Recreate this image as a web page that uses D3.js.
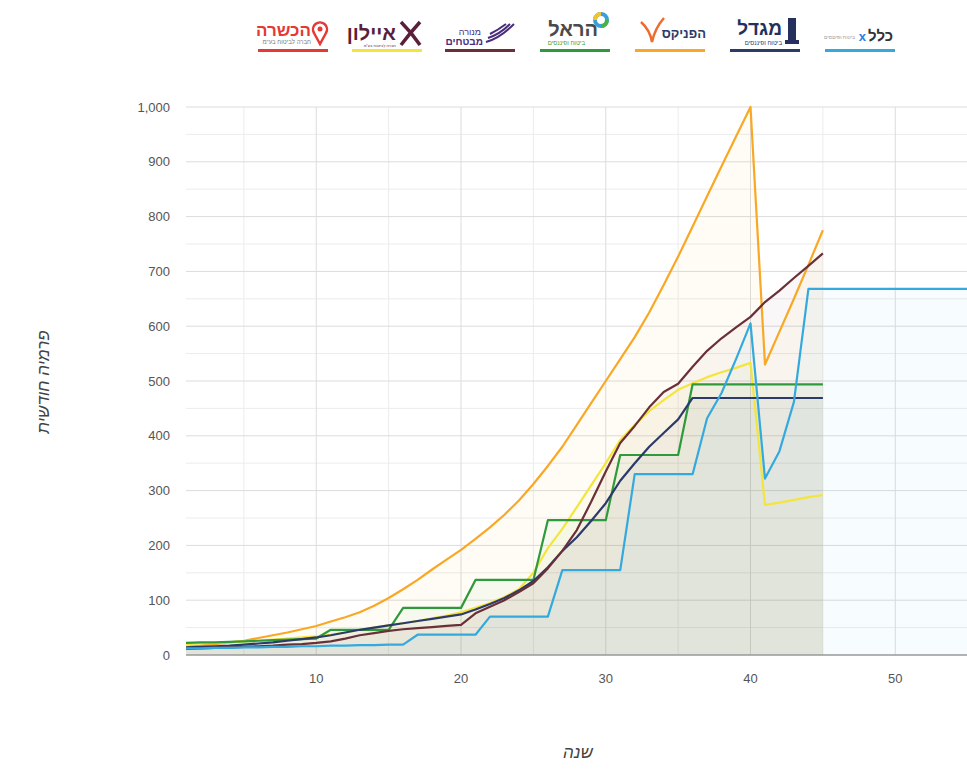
<!DOCTYPE html>
<html><head><meta charset="utf-8">
<script src="https://cdn.jsdelivr.net/npm/d3@7"></script>
<style>body{margin:0;background:#fff;overflow:hidden} svg{display:block;font-family:"Liberation Sans",Arial,sans-serif}</style>
</head><body><svg id="c" width="967" height="774"></svg>
<script>
const years = [1,2,3,4,5,6,7,8,9,10,11,12,13,14,15,16,17,18,19,20,21,22,23,24,25,26,27,28,29,30,31,32,33,34,35,36,37,38,39,40,41,42,43,44,45];
const clal    = [12,12,13,13,14,14,15,15,16,16,17,17,18,18,19,19,37,37,37,37,37,70,70,70,70,70,155,155,155,155,155,330,330,330,330,330,432,478,540,605,322,372,462,668,668];
const clalTailYears = [50,55,60];
const clalTail = [668,668,668];
const migdal  = [14,15,16,17,19,21,23,26,29,32,36,41,46,50,54,58,62,66,70,74,83,93,104,118,135,160,190,215,245,277,318,350,380,405,430,469,469,469,469,469,469,469,469,469,469];
const phoenix = [15,17,20,23,26,31,36,41,47,53,61,69,78,90,104,120,137,156,174,192,212,233,256,282,312,345,380,420,460,500,540,580,625,675,727,782,837,892,946,1000,530,590,650,712,775];
const harel   = [22,23,23,24,25,26,27,28,29,30,46,46,46,46,46,86,86,86,86,86,137,137,137,137,137,246,246,246,246,246,365,365,365,365,365,494,494,494,494,494,494,494,494,494,494];
const menora  = [11,12,13,14,15,16,17,19,20,22,25,30,36,40,44,47,49,51,53,55,76,88,100,115,131,158,190,228,280,335,387,418,452,480,495,526,555,578,598,617,644,665,688,710,733];
const ayalon  = [20,21,22,23,25,26,28,30,32,34,37,41,46,50,54,58,62,67,72,78,86,95,106,120,150,195,230,270,310,350,392,420,445,465,484,496,507,516,524,533,274,278,283,288,292];
const yTicks = [0,100,200,300,400,500,600,700,800,900,1000];
const xTicks = [10,20,30,40,50];
const legendNames = ["כלל","מגדל","הפניקס","הראל","מנורה מבטחים","איילון","הכשרה"];
const yTitle = "פרמיה חודשית";
const xTitle = "שנה";

const svg = d3.select("#c");
const L=186, R=1040, T=107, B=655;
const x = d3.scaleLinear().domain([1,60]).range([L,R]);
const y = d3.scaleLinear().domain([0,1000]).range([B,T]);

svg.append("defs").append("clipPath").attr("id","clip").append("rect")
  .attr("x",L).attr("y",T-5).attr("width",R-L).attr("height",B-T+5);

const g = svg.append("g");
g.selectAll(".ym").data(d3.range(50,1001,100)).join("line")
  .attr("x1",L).attr("x2",R).attr("y1",d=>y(d)).attr("y2",d=>y(d)).attr("stroke","#ececec");
g.selectAll(".xm").data(d3.range(5,61,10)).join("line")
  .attr("y1",T).attr("y2",B).attr("x1",d=>x(d)).attr("x2",d=>x(d)).attr("stroke","#ececec");
g.selectAll(".yM").data(yTicks.slice(1)).join("line")
  .attr("x1",L).attr("x2",R).attr("y1",d=>y(d)).attr("y2",d=>y(d)).attr("stroke","#dcdcdc");
g.selectAll(".xM").data(xTicks.concat([60])).join("line")
  .attr("y1",T).attr("y2",B).attr("x1",d=>x(d)).attr("x2",d=>x(d)).attr("stroke","#dcdcdc");

const series = [
  {name:"phoenix", data:phoenix, color:"#f9a825"},
  {name:"ayalon", data:ayalon, color:"#f4e53c"},
  {name:"harel", data:harel, color:"#2f9a3c"},
  {name:"migdal", data:migdal, color:"#2c3a6a"},
  {name:"menora", data:menora, color:"#6a3038"},
  {name:"clal", data:clal, color:"#34a9dd", tailX:clalTailYears, tail:clalTail}
];
series.forEach(s=>{
  s.pts = years.map((yr,i)=>[yr,s.data[i]]);
  if(s.tailX) s.tailX.forEach((yr,i)=>s.pts.push([yr,s.tail[i]]));
});
const plot = svg.append("g").attr("clip-path","url(#clip)");
const area = d3.area().x(d=>x(d[0])).y0(y(0)).y1(d=>y(d[1]));
const line = d3.line().x(d=>x(d[0])).y(d=>y(d[1]));
series.forEach(s=>{
  plot.append("path").attr("d",area(s.pts)).attr("fill",s.color).attr("fill-opacity",0.04);
});
series.forEach(s=>{
  plot.append("path").attr("d",line(s.pts)).attr("fill","none").attr("stroke",s.color)
    .attr("stroke-width",2.2).attr("stroke-linejoin","round");
});

svg.append("line").attr("x1",L).attr("x2",R).attr("y1",B).attr("y2",B).attr("stroke","#999").attr("stroke-width",1.5);

const fmt = d3.format(",");
svg.selectAll(".yl").data(yTicks).join("text")
  .attr("x",170).attr("y",d=>y(d)).attr("dy","0.35em").attr("text-anchor","end")
  .attr("font-size",13).attr("fill","#555").text(d=>fmt(d));
svg.selectAll(".xl").data(xTicks).join("text")
  .attr("x",d=>x(d)).attr("y",678).attr("dy","0.35em").attr("text-anchor","middle")
  .attr("font-size",13).attr("fill","#555").text(d=>d);
svg.append("text").attr("transform","translate(43,382) rotate(-90)").attr("text-anchor","middle")
  .attr("font-size",17).attr("font-style","italic").attr("fill","#444").attr("dy","0.35em").text(yTitle);
svg.append("text").attr("x",578).attr("y",752).attr("text-anchor","middle")
  .attr("font-size",17).attr("font-style","italic").attr("fill","#444").attr("dy","0.35em").text(xTitle);

const legColors = ["#34a9dd","#2c3a6a","#f9a825","#2f9a3c","#6a3038","#f4e53c","#e53935"];
const legX = [825,730,635,540,445,352,258];
const lg = svg.append("g");
legendNames.forEach((n,i)=>{
  lg.append("rect").attr("x",legX[i]).attr("y",49).attr("width",70).attr("height",3).attr("fill",legColors[i]);
});
lg.append("text").attr("x",893).attr("y",41).attr("text-anchor","end").attr("font-size",15).attr("font-weight","bold").attr("fill","#333").text("כלל");
lg.append("text").attr("x",866).attr("y",41).attr("text-anchor","end").attr("font-size",13).attr("font-weight","bold").attr("fill","#2d7fe0").text("x");
lg.append("text").attr("x",855).attr("y",39).attr("text-anchor","end").attr("font-size",5).attr("fill","#999").text("ביטוח ופיננסים");
lg.append("text").attr("x",782).attr("y",35).attr("text-anchor","end").attr("font-size",19).attr("font-weight","bold").attr("fill","#26305e").text("מגדל");
lg.append("text").attr("x",782).attr("y",45).attr("text-anchor","end").attr("font-size",6).attr("fill","#26305e").text("ביטוח ופיננסים");
lg.append("rect").attr("x",788).attr("y",18).attr("width",8).attr("height",26).attr("fill","#26305e");
lg.append("rect").attr("x",785).attr("y",40).attr("width",14).attr("height",4).attr("fill","#26305e");
lg.append("text").attr("x",706).attr("y",38).attr("text-anchor","end").attr("font-size",13).attr("font-weight","bold").attr("fill","#2c3a6a").text("הפניקס");
lg.append("path").attr("d","M641,22 Q650,30 652,42 M652,42 Q655,28 664,18").attr("fill","none").attr("stroke","#f06a2c").attr("stroke-width",2.5);
lg.append("text").attr("x",598).attr("y",36).attr("text-anchor","end").attr("font-size",20).attr("font-weight","bold").attr("fill","#4a4a4a").text("הראל");
lg.append("text").attr("x",585).attr("y",45).attr("text-anchor","end").attr("font-size",6).attr("fill","#2f9a3c").text("ביטוח ופיננסים");
lg.append("circle").attr("cx",601).attr("cy",20).attr("r",6).attr("fill","none").attr("stroke","#3aa0d8").attr("stroke-width",4);
lg.append("path").attr("d","M595,20 A6,6 0 0 1 601,14").attr("fill","none").attr("stroke","#f2c230").attr("stroke-width",4);
lg.append("path").attr("d","M607,20 A6,6 0 0 1 601,26").attr("fill","none").attr("stroke","#4bb04a").attr("stroke-width",4);
lg.append("text").attr("x",481).attr("y",35).attr("text-anchor","end").attr("font-size",9).attr("fill","#4a2c7c").text("מנורה");
lg.append("text").attr("x",483).attr("y",45).attr("text-anchor","end").attr("font-size",10).attr("font-weight","bold").attr("fill","#4a2c7c").text("מבטחים");
lg.append("path").attr("d","M486,42 Q500,38 514,24 M488,38 Q500,34 510,24 M490,34 Q498,30 506,24").attr("fill","none").attr("stroke","#4a2c7c").attr("stroke-width",2);
lg.append("text").attr("x",396).attr("y",40).attr("text-anchor","end").attr("font-size",20).attr("font-weight","bold").attr("fill","#5b1f3b").text("איילון");
lg.append("text").attr("x",396).attr("y",47).attr("text-anchor","end").attr("font-size",4).attr("fill","#5b1f3b").text("חברה לביטוח בע\"מ");
lg.append("path").attr("d","M401,22 Q412,33 420,45 M420,22 Q410,33 401,45").attr("fill","none").attr("stroke","#5b1f3b").attr("stroke-width",3.5);
lg.append("text").attr("x",311).attr("y",36).attr("text-anchor","end").attr("font-size",17).attr("font-weight","bold").attr("fill","#e53935").text("הכשרה");
lg.append("text").attr("x",311).attr("y",44).attr("text-anchor","end").attr("font-size",6).attr("fill","#777").text("חברה לביטוח בע\"מ");
lg.append("path").attr("d","M320,44 L314,33 A7,7 0 1 1 326,33 Z").attr("fill","none").attr("stroke","#e53935").attr("stroke-width",2.5);
lg.append("circle").attr("cx",320).attr("cy",29).attr("r",2.5).attr("fill","#e53935");
</script></body></html>
